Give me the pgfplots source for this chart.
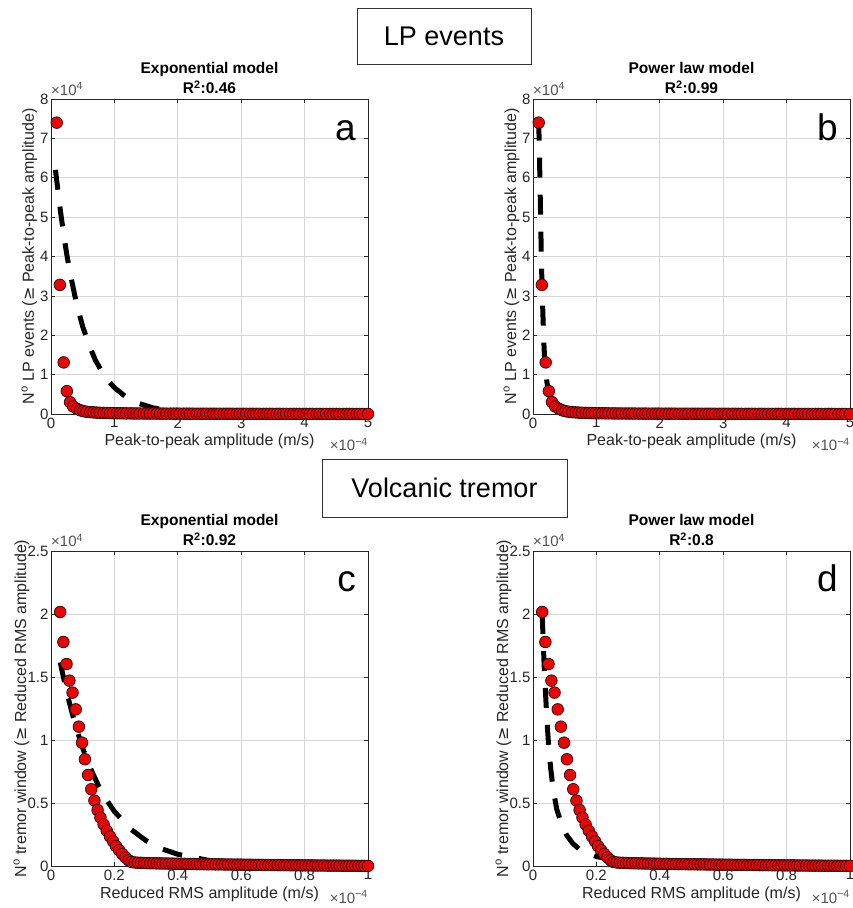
\documentclass[border=0pt]{standalone}
\usepackage{fontspec}
\setmainfont{Liberation Sans}
\newfontfamily\symfont{DejaVu Sans}
\usepackage{pgfplots}
\usepackage{pgfplotstable}
\pgfplotsset{compat=1.18}

\definecolor{mred}{RGB}{230,8,8}
\definecolor{medge}{RGB}{60,8,8}
\definecolor{axgray}{RGB}{38,38,38}

% cumulative counts, LP events (x in 1e-4 m/s, y in 1e4)
\pgfplotstableread[row sep=\\]{
x y\\
0.09 7.40\\ 0.14 3.28\\ 0.20 1.31\\ 0.25 0.58\\ 0.30 0.30\\ 0.35 0.19\\ 0.41 0.13\\ 0.46 0.095\\
0.51 0.072\\ 0.56 0.058\\ 0.62 0.048\\ 0.67 0.041\\ 0.72 0.035\\ 0.77 0.031\\ 0.83 0.028\\ 0.88 0.025\\
0.93 0.023\\ 0.98 0.021\\ 1.04 0.019\\ 1.09 0.018\\ 1.14 0.017\\ 1.19 0.016\\ 1.25 0.015\\ 1.30 0.014\\
1.35 0.013\\ 1.40 0.013\\ 1.46 0.012\\ 1.51 0.012\\ 1.56 0.011\\ 1.61 0.011\\ 1.67 0.010\\ 1.72 0.010\\
1.77 0.010\\ 1.82 0.009\\ 1.88 0.009\\ 1.93 0.009\\ 1.98 0.009\\ 2.03 0.008\\ 2.09 0.008\\ 2.14 0.008\\
2.19 0.008\\ 2.24 0.008\\ 2.30 0.007\\ 2.35 0.007\\ 2.40 0.007\\ 2.45 0.007\\ 2.51 0.007\\ 2.56 0.006\\
2.61 0.006\\ 2.66 0.006\\ 2.72 0.006\\ 2.77 0.006\\ 2.82 0.006\\ 2.87 0.005\\ 2.93 0.005\\ 2.98 0.005\\
3.03 0.005\\ 3.08 0.005\\ 3.14 0.005\\ 3.19 0.005\\ 3.24 0.004\\ 3.29 0.004\\ 3.35 0.004\\ 3.40 0.004\\
3.45 0.004\\ 3.50 0.004\\ 3.56 0.004\\ 3.61 0.004\\ 3.66 0.003\\ 3.71 0.003\\ 3.77 0.003\\ 3.82 0.003\\
3.87 0.003\\ 3.92 0.003\\ 3.98 0.003\\ 4.03 0.003\\ 4.08 0.003\\ 4.13 0.003\\ 4.19 0.002\\ 4.24 0.002\\
4.29 0.002\\ 4.34 0.002\\ 4.40 0.002\\ 4.45 0.002\\ 4.50 0.002\\ 4.55 0.002\\ 4.61 0.002\\ 4.66 0.002\\
4.71 0.002\\ 4.76 0.002\\ 4.82 0.001\\ 4.87 0.001\\ 4.92 0.001\\ 5.00 0.001\\
}\lpdata

% cumulative counts, tremor windows (x in 1e-4 m/s, y in 1e4)
\pgfplotstableread[row sep=\\]{
x y\\
0.029 2.016\\ 0.039 1.778\\ 0.049 1.603\\ 0.058 1.471\\ 0.068 1.376\\ 0.078 1.243\\ 0.088 1.106\\ 0.098 0.979\\
0.107 0.847\\ 0.117 0.722\\ 0.127 0.609\\ 0.137 0.519\\ 0.147 0.444\\ 0.156 0.385\\ 0.166 0.330\\ 0.176 0.280\\
0.186 0.235\\ 0.196 0.195\\ 0.205 0.158\\ 0.215 0.125\\ 0.225 0.095\\ 0.235 0.068\\ 0.245 0.045\\ 0.254 0.032\\
0.264 0.028\\ 0.274 0.026\\ 0.284 0.025\\ 0.294 0.024\\ 0.303 0.023\\ 0.313 0.022\\ 0.323 0.022\\ 0.333 0.021\\
0.343 0.021\\ 0.352 0.020\\ 0.362 0.020\\ 0.372 0.019\\ 0.382 0.019\\ 0.392 0.018\\ 0.401 0.018\\ 0.411 0.017\\
0.421 0.017\\ 0.431 0.016\\ 0.441 0.016\\ 0.450 0.016\\ 0.460 0.015\\ 0.470 0.015\\ 0.480 0.015\\ 0.490 0.014\\
0.499 0.014\\ 0.509 0.014\\ 0.519 0.013\\ 0.529 0.013\\ 0.539 0.013\\ 0.548 0.012\\ 0.558 0.012\\ 0.568 0.012\\
0.578 0.011\\ 0.588 0.011\\ 0.597 0.011\\ 0.607 0.010\\ 0.617 0.010\\ 0.627 0.010\\ 0.637 0.009\\ 0.646 0.009\\
0.656 0.009\\ 0.666 0.009\\ 0.676 0.008\\ 0.686 0.008\\ 0.695 0.008\\ 0.705 0.008\\ 0.715 0.007\\ 0.725 0.007\\
0.735 0.007\\ 0.744 0.007\\ 0.754 0.006\\ 0.764 0.006\\ 0.774 0.006\\ 0.784 0.006\\ 0.793 0.005\\ 0.803 0.005\\
0.813 0.005\\ 0.823 0.005\\ 0.833 0.004\\ 0.842 0.004\\ 0.852 0.004\\ 0.862 0.004\\ 0.872 0.003\\ 0.882 0.003\\
0.891 0.003\\ 0.901 0.003\\ 0.911 0.003\\ 0.921 0.002\\ 0.931 0.002\\ 0.940 0.002\\ 0.950 0.002\\ 0.960 0.002\\
0.970 0.001\\ 0.980 0.001\\ 0.989 0.001\\ 1.000 0.001\\
}\trdata

\pgfplotsset{
  panel/.style={
    scale only axis, width=317pt, height=315pt, anchor=south west,
    xmin=0, ymin=0, clip=false, scaled ticks=false,
    axis line style={axgray, line width=0.7pt},
    grid=major, major grid style={black!16, line width=0.7pt},
    tick align=inside, major tick length=4pt,
    every tick/.style={axgray, line width=0.7pt},
    tick label style={font=\fontsize{15}{17}\selectfont, text=axgray},
    yticklabel style={xshift=1pt},
    /pgf/number format/assume math mode=true,
  },
  dots/.style={only marks, mark=*, mark size=5.8pt,
    mark options={fill=mred, draw=medge, line width=0.8pt}},
  fitline/.style={black, no marks, line width=5pt, dash pattern=on 20pt off 17pt},
}

% title, R^2, panel letter, x label, y label, y label offset
\newcommand\panelnotes[6]{%
  \node[anchor=south, align=center, inner sep=0pt,
    font=\bfseries\fontsize{15.5}{20}\selectfont]
    at ([yshift=5pt]rel axis cs:0.5,1) {#1\\R\textsuperscript{2}:#2};
  \node[anchor=base east, inner sep=0pt, font=\fontsize{37}{37}\selectfont]
    at ([xshift=-12pt,yshift=-41pt]rel axis cs:1,1) {#3};
  \node[anchor=base, inner sep=0pt, text=axgray, font=\fontsize{16}{18}\selectfont]
    at ([yshift=-32pt]rel axis cs:0.5,0) {#4};
  \node[anchor=base, rotate=90, inner sep=0pt, text=axgray, font=\fontsize{16}{18}\selectfont]
    at ([xshift=#6]rel axis cs:0,0.5) {#5};
  \node[anchor=base west, inner sep=0pt, text=axgray!80, font=\fontsize{15}{17}\selectfont]
    at ([yshift=4pt]rel axis cs:0,1) {×10\textsuperscript{4}};
  \node[anchor=base east, inner sep=0pt, text=axgray!80, font=\fontsize{15}{17}\selectfont]
    at ([yshift=-37pt]rel axis cs:1,0) {×10\textsuperscript{−4}};
}

\begin{document}
\begin{tikzpicture}
\path[use as bounding box] (0,0) rectangle (852pt,908pt);

\node[draw=black!80, line width=0.9pt, minimum width=174pt, minimum height=56pt,
  font=\fontsize{27}{30}\selectfont] at (444pt,872pt) {LP events};
\node[draw=black!80, line width=0.9pt, minimum width=245pt, minimum height=58pt,
  font=\fontsize{27}{30}\selectfont] at (444.5pt,420pt) {Volcanic tremor};

% a: LP events, exponential
\begin{axis}[panel, at={(51pt,494pt)}, xmax=5, ymax=8,
  xtick={0,1,2,3,4,5}, ytick={0,1,2,3,4,5,6,7,8}]
\addplot[dots] table {\lpdata};
\addplot[fitline] coordinates {
  (0.07,6.2) (0.1,5.80) (0.15,5.14) (0.2,4.56) (0.25,4.04) (0.3,3.59) (0.4,2.82)
  (0.5,2.22) (0.6,1.75) (0.7,1.37) (0.8,1.08) (0.9,0.85) (1.0,0.67) (1.2,0.41)
  (1.4,0.26) (1.6,0.16) (1.8,0.098) (2.0,0.061) (2.5,0.018) (3.0,0.006)
  (3.5,0.002) (4.0,0.001) (5.0,0)
};
\panelnotes{Exponential model}{0.46}{a}{Peak-to-peak amplitude (m/s)}
  {N\textsuperscript{o} LP events ({\symfont ≥} Peak-to-peak amplitude)}{-17pt}
\end{axis}

% b: LP events, power law
\begin{axis}[panel, at={(533pt,494pt)}, xmax=5, ymax=8,
  xtick={0,1,2,3,4,5}, ytick={0,1,2,3,4,5,6,7,8}]
\addplot[dots] table {\lpdata};
\addplot[fitline] coordinates {
  (0.09,7.45) (0.10,6.7) (0.11,5.9) (0.12,5.0) (0.13,4.1) (0.14,3.4) (0.15,2.85)
  (0.16,2.35) (0.17,1.85) (0.18,1.5) (0.20,1.1) (0.22,0.8) (0.25,0.55) (0.28,0.38)
  (0.32,0.24) (0.36,0.16) (0.4,0.11) (0.5,0.055) (0.6,0.03) (0.8,0.012)
  (1.0,0.006) (1.5,0.002) (2.0,0.001) (5.0,0)
};
\panelnotes{Power law model}{0.99}{b}{Peak-to-peak amplitude (m/s)}
  {N\textsuperscript{o} LP events ({\symfont ≥} Peak-to-peak amplitude)}{-17pt}
\end{axis}

% c: tremor, exponential
\begin{axis}[panel, at={(51pt,42pt)}, xmax=1, ymax=2.5,
  xtick={0,0.2,0.4,0.6,0.8,1}, ytick={0,0.5,1,1.5,2,2.5}]
\addplot[dots] table {\trdata};
\addplot[fitline] coordinates {
  (0.029,1.616) (0.05,1.374) (0.075,1.134) (0.1,0.935) (0.125,0.772) (0.15,0.636)
  (0.175,0.525) (0.2,0.433) (0.25,0.295) (0.3,0.201) (0.35,0.136) (0.4,0.093)
  (0.5,0.043) (0.6,0.020) (0.7,0.009) (0.8,0.004) (1.0,0.001)
};
\panelnotes{Exponential model}{0.92}{c}{Reduced RMS amplitude (m/s)}
  {N\textsuperscript{o} tremor window ({\symfont ≥} Reduced RMS amplitude)}{-25pt}
\end{axis}

% d: tremor, power law
\begin{axis}[panel, at={(533pt,42pt)}, xmax=1, ymax=2.5,
  xtick={0,0.2,0.4,0.6,0.8,1}, ytick={0,0.5,1,1.5,2,2.5}]
\addplot[dots] table {\trdata};
\addplot[fitline] coordinates {
  (0.029,2.0) (0.032,1.8) (0.035,1.6) (0.039,1.4) (0.042,1.25) (0.046,1.08)
  (0.05,0.93) (0.056,0.77) (0.064,0.6) (0.075,0.45) (0.09,0.33) (0.106,0.245)
  (0.125,0.18) (0.15,0.125) (0.2,0.075) (0.25,0.05) (0.3,0.036) (0.4,0.022)
  (0.5,0.015) (0.6,0.011) (0.8,0.007) (1.0,0.005)
};
\panelnotes{Power law model}{0.8}{d}{Reduced RMS amplitude (m/s)}
  {N\textsuperscript{o} tremor window ({\symfont ≥} Reduced RMS amplitude)}{-25pt}
\end{axis}
\end{tikzpicture}
\end{document}
